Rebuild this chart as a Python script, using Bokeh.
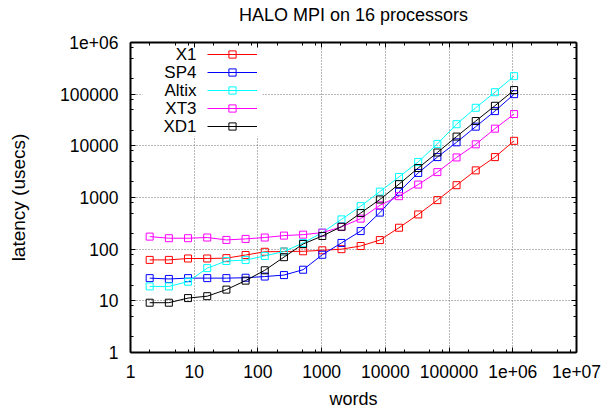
from bokeh.plotting import figure
from bokeh.models import (Range1d, FixedTicker, LogAxis, Legend, LegendItem,
                          Label, BoxAnnotation)
from bokeh.core.properties import value
from bokeh.embed import file_html
from bokeh.resources import INLINE

# ---- data ----
words = [2, 4, 8, 16, 32, 64, 128, 256, 512, 1024, 2048, 4096, 8192, 16384,
         32768, 65536, 131072, 262144, 524288, 1048576]

series_names = ["X1", "SP4", "Altix", "XT3", "XD1"]

x1 = [62, 62, 66, 66, 67, 77, 89, 90, 91, 95, 100, 115, 150, 260, 470, 890,
      1730, 3350, 6050, 12500]
sp4 = [27.5, 26.5, 27.5, 27.5, 27.5, 28, 29.5, 31.5, 40, 78, 132, 224, 510,
       1290, 2990, 6050, 11700, 23500, 47000, 100000]
altix = [19, 19, 23.5, 43, 59, 61.5, 74, 90, 132, 209, 377, 680, 1300, 2500,
         4880, 10900, 26200, 54500, 109000, 223000]
xt3 = [175, 163, 163, 168, 151, 158, 168, 183, 191, 209, 270, 390, 705, 1060,
       1780, 3100, 5960, 10700, 21500, 41200]
xd1 = [9.2, 9.2, 11.3, 12.3, 16.5, 24.6, 39, 70, 126, 180, 272, 500, 915,
       1810, 3720, 7420, 15100, 30200, 59600, 120000]

series_values = [x1, sp4, altix, xt3, xd1]
colors = ["#ff0000", "#0000ff", "#00ffff", "#ff00ff", "#000000"]

x_tick_values = [1, 10, 100, 1000, 10000, 100000, 1000000, 10000000]
x_tick_labels = ["1", "10", "100", "1000", "10000", "100000", "1e+06", "1e+07"]
y_tick_values = [1, 10, 100, 1000, 10000, 100000, 1000000]
y_tick_labels = ["1", "10", "100", "1000", "10000", "100000", "1e+06"]
minor_mantissas = [2, 5, 8]

title_text = "HALO MPI on 16 processors"
FONT = "Liberation Sans"

x_minor = [m * t for t in x_tick_values[:-1] for m in minor_mantissas]
y_minor = [m * t for t in y_tick_values[:-1] for m in minor_mantissas]

W, H = 615, 411
BL, BR, BT, BB = 130, 39, 42, 57
FRAME_W = W - BL - BR
FRAME_H = H - BT - BB

p = figure(width=W, height=H, x_axis_type="log", y_axis_type="log",
           x_range=Range1d(1, 1e7), y_range=Range1d(1, 1e6),
           output_backend="svg", toolbar_location=None,
           min_border_left=BL, min_border_right=BR,
           min_border_top=BT, min_border_bottom=BB)
p.background_fill_color = "white"
p.border_fill_color = "white"
p.outline_line_color = None


def style_axis(ax, ticks, labels, minors, show):
    ax.ticker = FixedTicker(ticks=ticks, minor_ticks=minors)
    ax.major_label_overrides = {t: (l if show else "") for t, l in zip(ticks, labels)}
    ax.axis_line_width = 2
    ax.axis_line_color = "black"
    ax.major_tick_in = 5
    ax.major_tick_out = 0
    ax.minor_tick_in = 3
    ax.minor_tick_out = 0
    ax.major_tick_line_color = "black"
    ax.minor_tick_line_color = "black"
    ax.major_label_text_font = FONT
    ax.major_label_text_font_size = "17.5px"
    ax.major_label_text_color = "black"
    ax.major_label_standoff = 12
    ax.axis_label_text_font = FONT
    ax.axis_label_text_font_size = "18px"
    ax.axis_label_text_font_style = "normal"
    ax.axis_label_text_color = "black"


xb = p.xaxis[0]
yl = p.yaxis[0]
style_axis(xb, x_tick_values, x_tick_labels, x_minor, True)
style_axis(yl, y_tick_values, y_tick_labels, y_minor, True)
xb.axis_label = "words"
xb.axis_label_standoff = 8
yl.axis_label = "latency (usecs)"
yl.axis_label_standoff = 28
yl.axis_label_text_font_size = "19px"

# top mirror axis carries the chart title as its label
xt = LogAxis()
style_axis(xt, x_tick_values, x_tick_labels, x_minor, False)
xt.major_label_standoff = 0
xt.axis_label = title_text
xt.axis_label_standoff = 18
p.add_layout(xt, "above")
yr = LogAxis()
style_axis(yr, y_tick_values, y_tick_labels, y_minor, False)
yr.major_label_standoff = 0
p.add_layout(yr, "right")

p.xgrid.ticker = FixedTicker(ticks=x_tick_values)
p.ygrid.ticker = FixedTicker(ticks=y_tick_values)
p.grid.grid_line_color = "#707070"
p.grid.grid_line_dash = "1 2"
p.grid.grid_line_width = 1

# white key box hiding the grid behind the legend
p.add_layout(BoxAnnotation(left=12, right=132, top=FRAME_H - 6, bottom=FRAME_H - 96,
                           left_units="screen", right_units="screen",
                           top_units="screen", bottom_units="screen",
                           fill_color="white", fill_alpha=1, line_color=None,
                           level="underlay"))

items = []
for name, vals, color in zip(series_names, series_values, colors):
    ln = p.line(words, vals, line_color=color, line_width=1)
    sc = p.scatter(words, vals, marker="square", size=7, line_color=color,
                   fill_color=None, line_width=1)
    items.append(LegendItem(label=value(""), renderers=[ln, sc]))

legend = Legend(items=items, location=(77, FRAME_H - 95), orientation="vertical",
                glyph_width=50, glyph_height=18, label_width=0, label_height=18,
                label_standoff=0, padding=0, margin=0, spacing=0,
                border_line_color=None, background_fill_alpha=0)
p.add_layout(legend)

for i, name in enumerate(series_names):
    p.add_layout(Label(x=66, y=FRAME_H - 14 - i * 18, x_units="screen", y_units="screen",
                       text=name, text_align="right", text_baseline="middle",
                       text_font=FONT, text_font_size="17px", text_color="black"))

open("out.html", "w").write(file_html(p, INLINE))
